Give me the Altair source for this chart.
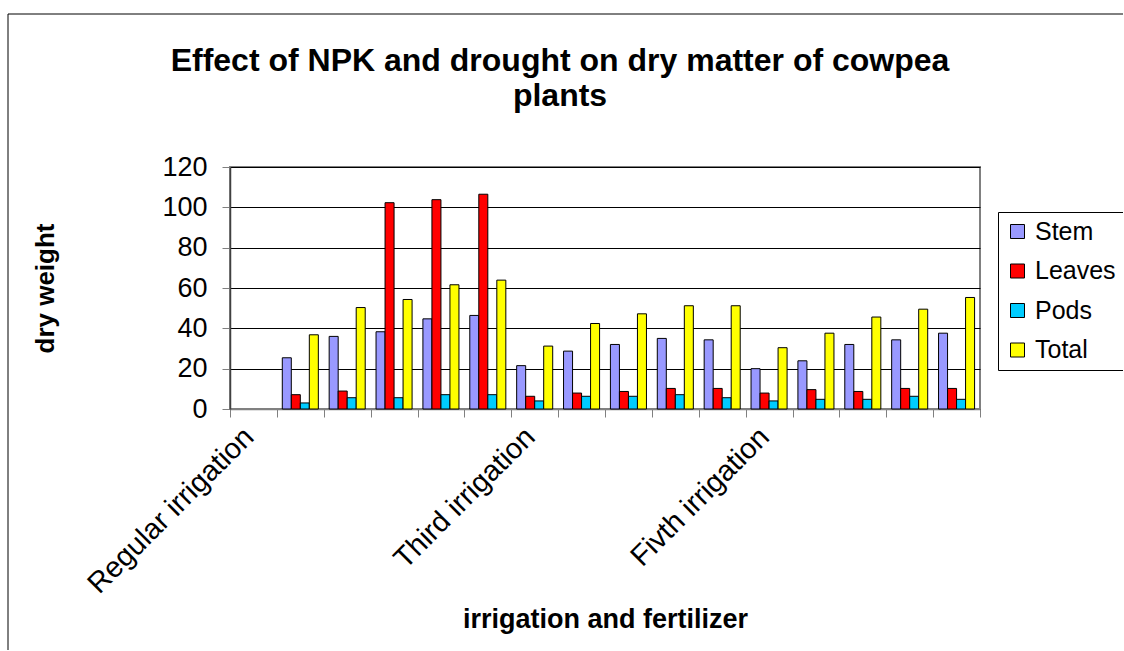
import json
import altair as alt
import pandas as pd

# ---- data ----
categories = [str(i) for i in range(16)]
cat_labels = ["Regular irrigation", "", "", "", "", "",
              "Third irrigation", "", "", "", "",
              "Fivth irrigation", "", "", "", ""]
series = ["Stem", "Leaves", "Pods", "Total"]
colors = ["#9999FF", "#FF0000", "#00CCFF", "#FFFF00"]

stem = [None, 25.4, 36.0, 38.3, 44.7, 46.4, 21.5, 28.7, 32.0, 35.0, 34.3, 20.0, 23.9, 32.0, 34.3, 37.6]
leaves = [None, 7.1, 8.9, 102.3, 103.8, 106.5, 6.3, 7.9, 8.7, 10.2, 10.2, 7.9, 9.6, 8.7, 10.2, 10.2]
pods = [None, 3.0, 5.6, 5.6, 7.1, 7.1, 4.0, 6.3, 6.3, 7.1, 5.6, 4.0, 4.8, 4.8, 6.3, 4.8]
total = [None, 36.8, 50.3, 54.3, 61.6, 63.9, 31.2, 42.4, 47.2, 51.2, 51.2, 30.4, 37.6, 45.6, 49.5, 55.3]

title_lines = ["Effect of NPK and drought on dry matter of cowpea", "plants"]
y_ticks = [0, 20, 40, 60, 80, 100, 120]

rows = []
for name, vals in zip(series, [stem, leaves, pods, total]):
    for c, v in zip(categories, vals):
        if v is not None:
            rows.append({"cat": c, "series": name, "value": v})
df = pd.DataFrame(rows)

FONT = "Liberation Sans"
label_expr = json.dumps(cat_labels) + "[toNumber(datum.value)]"

bars = alt.Chart(df).mark_bar(stroke="black", strokeWidth=1).encode(
    x=alt.X("cat:N", sort=categories,
            scale=alt.Scale(domain=categories, paddingInner=0, paddingOuter=0),
            axis=alt.Axis(title="irrigation and fertilizer", labelExpr=label_expr,
                          labelAngle=-45, labelAlign="right", labelBaseline="middle",
                          labelFontSize=29, labelPadding=15, labelOffset=-5,
                          labelOverlap=False, labelLimit=600, labelFont=FONT,
                          labelColor="black",
                          tickBand="extent", tickSize=8, tickColor="#808080",
                          domainColor="#808080", domainWidth=1.5, grid=False,
                          titleFont=FONT, titleFontSize=27, titleFontWeight="bold",
                          titleColor="black", titleX=375, titleY=218,
                          titleBaseline="alphabetic")),
    xOffset=alt.XOffset("series:N", sort=series,
                        scale=alt.Scale(domain=series, paddingInner=0, paddingOuter=0.6)),
    y=alt.Y("value:Q", scale=alt.Scale(domain=[0, 120], nice=False),
            axis=alt.Axis(title="dry weight", values=y_ticks, labelFontSize=27,
                          labelFont=FONT, labelColor="black", labelPadding=15,
                          tickSize=8, tickColor="#808080", domainColor="#404040",
                          domainWidth=1.5, grid=True, gridColor="black", gridWidth=1,
                          titleFont=FONT, titleFontSize=26, titleFontWeight="bold",
                          titleColor="black", titleAngle=270, titleX=-172, titleY=121,
                          titleBaseline="bottom")),
    color=alt.Color("series:N", sort=series,
                    scale=alt.Scale(domain=series, range=colors),
                    legend=alt.Legend(title=None, orient="none", legendX=768, legendY=45,
                                      symbolType="square", symbolSize=196,
                                      symbolStrokeColor="black", symbolStrokeWidth=1,
                                      labelFont=FONT, labelFontSize=25, labelColor="black",
                                      labelOffset=5, rowPadding=13.5, padding=7,
                                      strokeColor="black", fillColor="white")),
)

one = pd.DataFrame({"k": [0]})
border_v = alt.Chart(one).mark_rule(color="black", strokeWidth=1).encode(
    x=alt.value(-222), y=alt.value(-153), y2=alt.value(490))
border_h = alt.Chart(one).mark_rule(color="black", strokeWidth=1).encode(
    x=alt.value(-222), x2=alt.value(900), y=alt.value(-153))

t1 = alt.Chart(pd.DataFrame({"t": [title_lines[0]]})).mark_text(
    font=FONT, fontSize=32, fontWeight="bold", align="center", baseline="alphabetic",
    color="black").encode(text="t:N", x=alt.value(330), y=alt.value(-96))
t2 = alt.Chart(pd.DataFrame({"t": [title_lines[1]]})).mark_text(
    font=FONT, fontSize=32, fontWeight="bold", align="center", baseline="alphabetic",
    color="black").encode(text="t:N", x=alt.value(330), y=alt.value(-61))

chart = alt.layer(bars, border_v, border_h, t1, t2).properties(
    width=750, height=242,
    autosize=alt.AutoSizeParams(type="none"),
    padding={"left": 230, "top": 167, "right": 143, "bottom": 241},
    background="white",
).configure_view(stroke="#808080", strokeWidth=2)

chart.save("out.html", embed_options={"renderer": "svg", "actions": False})
